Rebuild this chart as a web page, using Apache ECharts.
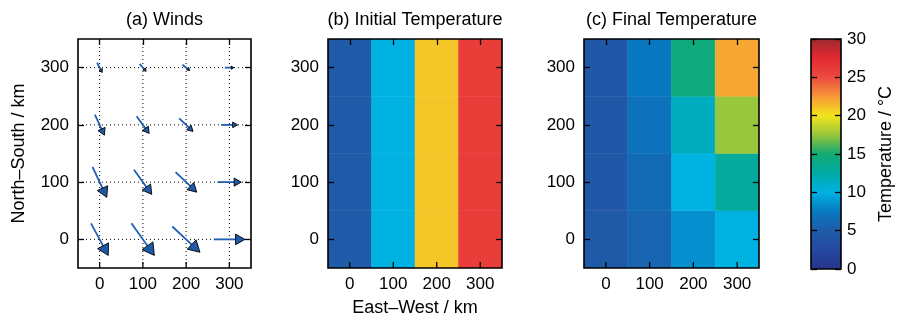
<!DOCTYPE html>
<html>
<head>
<meta charset="utf-8">
<script src="https://cdn.jsdelivr.net/npm/echarts@6/dist/echarts.min.js"></script>
<style>html,body{margin:0;padding:0;background:#fff}#c{width:897px;height:323px}</style>
</head>
<body>
<div id="c"></div>
<script>
// ---- data ----
var xPositions = [0, 100, 200, 300];          // East-West, km
var yPositions = [0, 100, 200, 300];          // North-South, km
var tickLabels = [0, 100, 200, 300];
// wind vectors (in plotted km units), rows = y (0..300), cols = x (0..300)
var windU = [
  [40, 53, 64, 72],
  [33, 41, 49, 55],
  [22, 29, 32, 38],
  [12, 15, 17, 21]
];
var windV = [
  [-56, -56, -45, 0],
  [-53, -43, -35, 0],
  [-36, -30, -23, 0],
  [-17, -13, -10, 0]
];
// initial temperature per column (uniform in y), degC
var initialTemp = [5, 10, 21, 26];
// final temperature, rows = y (0..300), cols = x (0..300), degC
var finalTemp = [
  [4.8, 5.8, 8.5, 10],
  [4.6, 6.3, 10, 13],
  [4.5, 7, 11.5, 17.5],
  [4.5, 7.5, 14.5, 22]
];
var colorbarTicks = [0, 5, 10, 15, 20, 25, 30];
var colormap = ['#28358b', '#2449a0', '#1f5ba8', '#0878c0', '#00b2e2', '#00aaa6', '#12aa72',
                '#98c63c', '#f4e41c', '#f69838', '#ec4a40', '#e42a30', '#9c2a2e'];

// ---- build ----
var FONT = "'Liberation Sans', Arial, Helvetica, sans-serif";
var windData = [], initData = [], finalData = [];
for (var i = 0; i < yPositions.length; i++) {
  for (var j = 0; j < xPositions.length; j++) {
    windData.push([xPositions[j], yPositions[i], windU[i][j], windV[i][j]]);
    initData.push([xPositions[j], yPositions[i], initialTemp[j]]);
    finalData.push([xPositions[j], yPositions[i], finalTemp[i][j]]);
  }
}

var grids = [
  {left: 78, top: 39, width: 173, height: 229},
  {left: 328, top: 39, width: 174, height: 229},
  {left: 584, top: 39, width: 175, height: 229},
  {left: 811, top: 39, width: 30, height: 230}
];
grids.forEach(function (g) { g.show = true; g.borderColor = '#000'; g.borderWidth = 1.6; g.z = 10; g.backgroundColor = 'transparent'; });

var TICK_LEN = 6, TICK_W = 1.3;
var xAxes = [], yAxes = [];
function tickOpts(vals) { return {show: true, inside: true, length: TICK_LEN, customValues: vals.slice(), lineStyle: {color: '#000', width: TICK_W}}; }
function noLine() { return {show: false, onZero: false}; }
for (var g = 0; g < 3; g++) {
  xAxes.push({
    gridIndex: g, type: 'value', min: -50, max: 350, position: 'bottom', z: 11,
    axisLine: noLine(), axisTick: {show: false},
    axisLabel: {show: true, customValues: tickLabels.slice(), color: '#000', fontSize: 17, fontFamily: FONT, margin: 8},
    splitLine: {show: false},
    name: g === 1 ? 'East–West / km' : '', nameLocation: 'middle', nameGap: 31,
    nameTextStyle: {color: '#000', fontSize: 18, fontFamily: FONT}
  });
  xAxes.push({
    gridIndex: g, type: 'value', min: -50, max: 350, position: 'top', z: 11,
    axisLine: noLine(), axisTick: tickOpts(tickLabels), axisLabel: {show: false}, splitLine: {show: false}
  });
  yAxes.push({
    gridIndex: g, type: 'value', min: -50, max: 350, position: 'left', z: 11,
    axisLine: noLine(), axisTick: tickOpts(tickLabels),
    axisLabel: {show: true, customValues: tickLabels.slice(), color: '#000', fontSize: 17, fontFamily: FONT, margin: 9},
    splitLine: {show: false},
    name: g === 0 ? 'North–South / km' : '', nameLocation: 'middle', nameGap: 50, nameRotate: 90,
    nameTextStyle: {color: '#000', fontSize: 18, fontFamily: FONT}
  });
  yAxes.push({
    gridIndex: g, type: 'value', min: -50, max: 350, position: 'right', z: 11,
    axisLine: noLine(), axisTick: tickOpts(tickLabels), axisLabel: {show: false}, splitLine: {show: false}
  });
}
// colorbar axes
xAxes.push({gridIndex: 3, type: 'value', min: 0, max: 1, show: false, axisLine: noLine()});
yAxes.push({
  gridIndex: 3, type: 'value', min: 0, max: 30, interval: 5, position: 'right', z: 11,
  axisLine: noLine(), axisTick: tickOpts(colorbarTicks),
  axisLabel: {show: true, customValues: colorbarTicks.slice(), color: '#000', fontSize: 17, fontFamily: FONT, margin: 6},
  splitLine: {show: false},
  name: 'Temperature / °C', nameLocation: 'middle', nameGap: 36, nameRotate: 90,
  nameTextStyle: {color: '#000', fontSize: 18, fontFamily: FONT}
});
yAxes.push({
  gridIndex: 3, type: 'value', min: 0, max: 30, interval: 5, position: 'left', z: 11,
  axisLine: noLine(), axisTick: tickOpts(colorbarTicks), axisLabel: {show: false}, splitLine: {show: false}
});

function renderArrow(params, api) {
  var x = api.value(0), y = api.value(1), u = api.value(2), v = api.value(3);
  var p0 = api.coord([x - u / 2, y - v / 2]);
  var p1 = api.coord([x + u / 2, y + v / 2]);
  var dx = p1[0] - p0[0], dy = p1[1] - p0[1];
  var L = Math.sqrt(dx * dx + dy * dy);
  if (L < 0.01) return null;
  var ux = dx / L, uy = dy / L;
  var h = 0.3 * L, w = 0.17 * L;
  var b = [p1[0] - h * ux, p1[1] - h * uy];
  return {
    type: 'group',
    children: [
      {type: 'line', shape: {x1: p0[0], y1: p0[1], x2: b[0] + 0.3 * h * ux, y2: b[1] + 0.3 * h * uy},
        style: {stroke: '#1f5fb5', lineWidth: 1.8}},
      {type: 'polygon', shape: {points: [p1, [b[0] - w * uy, b[1] + w * ux], [b[0] + w * uy, b[1] - w * ux]]},
        style: {fill: '#1f5aa8', stroke: '#000', lineWidth: 0.9}}
    ]
  };
}
// dotted reference grid of panel (a), positioned through the axes
function renderGridLines(params, api) {
  var v = api.value(0);
  var a = api.coord([v, -50]), b = api.coord([v, 350]);
  var c = api.coord([-50, v]), d = api.coord([350, v]);
  return {type: 'group', children: [
    {type: 'line', shape: {x1: a[0], y1: a[1], x2: b[0], y2: b[1]}, style: {stroke: '#000', lineWidth: 1, lineDash: [1, 3]}},
    {type: 'line', shape: {x1: c[0], y1: c[1], x2: d[0], y2: d[1]}, style: {stroke: '#000', lineWidth: 1, lineDash: [1, 3]}}
  ]};
}
// bottom-edge inward tick marks, positioned through the axes
function renderBottomTick(params, api) {
  var p = api.coord([api.value(0), -50]);
  return {type: 'line', shape: {x1: p[0], y1: p[1], x2: p[0], y2: p[1] - TICK_LEN}, style: {stroke: '#000', lineWidth: TICK_W}};
}
function renderCell(params, api) {
  var x = api.value(0), y = api.value(1);
  var a = api.coord([x - 50, y + 50]);
  var c = api.coord([x + 50, y - 50]);
  var col = api.visual('color');
  return {type: 'rect', shape: {x: a[0], y: a[1], width: c[0] - a[0], height: c[1] - a[1]},
    style: {fill: col, stroke: col, lineWidth: 0.5}};
}
var tickData = tickLabels.map(function (t) { return [t]; });

var option = {
  animation: false,
  backgroundColor: '#fff',
  grid: grids,
  xAxis: xAxes,
  yAxis: yAxes,
  visualMap: {
    type: 'continuous', min: 0, max: 30, dimension: 2, seriesIndex: [1, 2],
    left: 811, top: 39, itemWidth: 30, itemHeight: 230, padding: 0,
    calculable: false, realtime: false, text: null, showLabel: false,
    inRange: {color: colormap}, hoverLink: false
  },
  graphic: [
    {type: 'text', x: 164.5, y: 20, style: {text: '(a) Winds', fill: '#000', font: '18px ' + FONT, textAlign: 'center', textVerticalAlign: 'middle'}},
    {type: 'text', x: 415, y: 20, style: {text: '(b) Initial Temperature', fill: '#000', font: '18px ' + FONT, textAlign: 'center', textVerticalAlign: 'middle'}},
    {type: 'text', x: 671.5, y: 20, style: {text: '(c) Final Temperature', fill: '#000', font: '18px ' + FONT, textAlign: 'center', textVerticalAlign: 'middle'}}
  ],
  series: [
    {type: 'custom', xAxisIndex: 0, yAxisIndex: 0, data: windData, renderItem: renderArrow, z: 4, clip: false},
    {type: 'custom', xAxisIndex: 2, yAxisIndex: 2, data: initData, renderItem: renderCell, z: 2, clip: true},
    {type: 'custom', xAxisIndex: 4, yAxisIndex: 4, data: finalData, renderItem: renderCell, z: 2, clip: true},
    {type: 'custom', xAxisIndex: 0, yAxisIndex: 0, data: tickData, renderItem: renderGridLines, z: 3, silent: true},
    {type: 'custom', xAxisIndex: 0, yAxisIndex: 0, data: tickData, renderItem: renderBottomTick, z: 5, silent: true},
    {type: 'custom', xAxisIndex: 2, yAxisIndex: 2, data: tickData, renderItem: renderBottomTick, z: 5, silent: true},
    {type: 'custom', xAxisIndex: 4, yAxisIndex: 4, data: tickData, renderItem: renderBottomTick, z: 5, silent: true}
  ]
};
var chart = echarts.init(document.getElementById('c'), null, {renderer: 'canvas'});
chart.setOption(option);
</script>
</body>
</html>
